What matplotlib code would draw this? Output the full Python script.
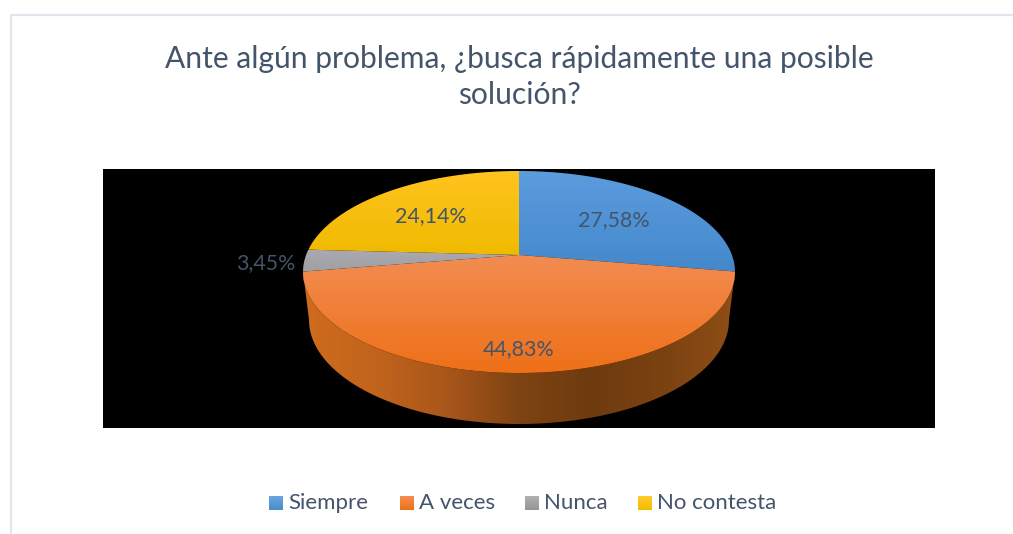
import numpy as np
import matplotlib
matplotlib.use('Agg')
import matplotlib.pyplot as plt
from matplotlib.colors import LinearSegmentedColormap
from matplotlib.patches import Polygon, Rectangle

title_lines = ["Ante algún problema, ¿busca rápidamente una posible", "solución?"]
categories = ["Siempre", "A veces", "Nunca", "No contesta"]
values = [27.58, 44.83, 3.45, 24.14]
value_labels = ["27,58%", "44,83%", "3,45%", "24,14%"]

TEXT = '#44546A'
# colores de arriba a abajo para cada sector
top_colors = [('#5B9CDD', '#4488CC'), ('#F28C52', '#EE7017'), ('#ABA8B2', '#A0A0A0'), ('#FFC41F', '#F0BA00')]
legend_colors = [('#6AA5DE', '#4A8DCC'), ('#F58F50', '#EE7018'), ('#B0B0B0', '#959595'), ('#FFCB2E', '#F3BC00')]
side_colors = ['#CE6C1E', '#C2641C', '#A8561A', '#7E4312', '#6E3B0F', '#7A4211', '#8F4E15']

# geometria del pastel en pixeles de la figura
CX, APEX_Y, CY = 519, 255, 272
RX, RY = 216, 101
RX2, CY2, RY2 = 210, 320, 104
label_pos = [(614, 220), (519, 349), (266, 263), (431, 216)]
legend_x = [269, 400, 525, 638]


def rim_unit(theta):
    # rayo desde el vertice (perspectiva) hasta el circulo unidad
    k = (CY - APEX_Y) / RY
    dx, dy = np.sin(theta), np.cos(theta)
    b = k * dy
    t = -b + np.sqrt(b * b + 1 - k * k)
    return t * dx, k + t * dy


def gradient(ax, xs, ys, colors, horizontal=False, clip=True):
    cmap = LinearSegmentedColormap.from_list('g', colors)
    ramp = np.linspace(0, 1, 256)
    ramp = ramp.reshape(1, -1) if horizontal else ramp.reshape(-1, 1)
    extent = (min(xs), max(xs), max(ys), min(ys))
    im = ax.imshow(ramp, cmap=cmap, extent=extent, origin='upper', aspect='auto', zorder=3)
    if clip:
        poly = Polygon(np.column_stack([xs, ys]), closed=True, transform=ax.transData)
        im.set_clip_path(poly)
    return im


fig = plt.figure(figsize=(10.13, 5.34), dpi=100, facecolor='white')
ax = fig.add_axes([0, 0, 1, 1])
plt.rcParams['font.family'] = ['Lato', 'DejaVu Sans']

# marco del grafico y fondo negro
ax.plot([11, 11, 1013], [534, 15, 15], color='#E1E5EE', lw=1.6, zorder=1)
ax.add_patch(Rectangle((103, 169), 832, 259, facecolor='black', edgecolor='none', zorder=2))

# sectores en sentido horario desde las 12
fractions = np.array(values) / sum(values)
edges = np.concatenate([[0], np.cumsum(fractions)]) * 2 * np.pi

# pared lateral, solo se ve la del sector "A veces"
th = np.linspace(edges[1], edges[2], 120)
ux, uy = rim_unit(th)
side_x = np.concatenate([CX + RX * ux, (CX + RX2 * ux)[::-1]])
side_y = np.concatenate([CY - RY * uy, (CY2 - RY2 * uy)[::-1]])
gradient(ax, side_x, side_y, side_colors, horizontal=True)

for i in range(len(values)):
    th = np.linspace(edges[i], edges[i + 1], 120)
    ux, uy = rim_unit(th)
    xs = np.concatenate([[CX], CX + RX * ux])
    ys = np.concatenate([[APEX_Y], CY - RY * uy])
    gradient(ax, xs, ys, top_colors[i])

for lab, (x, y) in zip(value_labels, label_pos):
    ax.text(x, y, lab, color=TEXT, fontsize=15.4, ha='center', va='center', zorder=5)

ax.text(519, 59, title_lines[0], color=TEXT, fontsize=21.6, ha='center', va='center')
ax.text(519, 95, title_lines[1], color=TEXT, fontsize=21.6, ha='center', va='center')

# leyenda
for x, name, cols in zip(legend_x, categories, legend_colors):
    gradient(ax, [x, x + 14], [496, 510], cols, clip=False)
    ax.text(x + 19, 503, name, color=TEXT, fontsize=16, ha='left', va='center')

ax.set_xlim(0, 1013)
ax.set_ylim(534, 0)
ax.axis('off')

fig.savefig('out.png', dpi=100, facecolor='white')
